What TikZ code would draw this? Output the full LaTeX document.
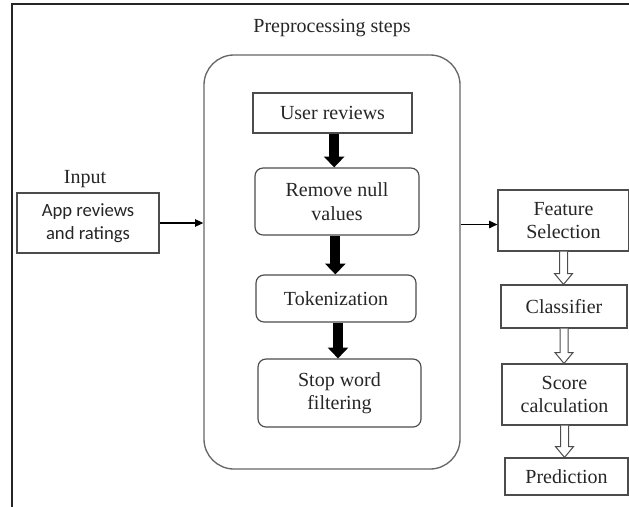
\documentclass[tikz,border=0pt]{standalone}
\usepackage{fontspec}
\setmainfont{Liberation Serif}
\newfontfamily\appfont{Carlito}
\usetikzlibrary{arrows.meta,calc}
\begin{document}
\begin{tikzpicture}[x=0.6pt,y=-0.6pt,
  every node/.style={inner sep=0pt,align=center,text=black!85},
  txt/.style={font=\rmfamily\fontsize{12}{14}\selectfont},
  sqbox/.style={txt,draw=black!70,line width=0.7pt},
  rbox/.style={txt,draw=black!70,line width=0.7pt,rounded corners=4.8pt},
  thickarrow/.style={line width=6pt,-{Triangle[length=6.5pt,width=12pt]}},
  thinarrow/.style={line width=0.7pt,-{Triangle[length=5pt,width=4.5pt]}},
  hollow/.style={draw=black!70,line width=0.6pt,fill=white}]
\useasboundingbox (0,0) rectangle (629,506);
% frame
\draw[line width=1.4pt,black!85] (12,520) -- (12,4) -- (640,4);
% title
\node[txt] (title) at (332,28) {Preprocessing steps};
% big container
\node[draw=black!60,line width=0.8pt,rounded corners=18pt,minimum width=153.6pt,minimum height=248.4pt] (big) at (332,262) {};
% inner steps
\node[sqbox,minimum width=95.4pt,minimum height=24pt] (ur) at (332.5,113) {User reviews};
\node[rbox,minimum width=98.4pt,minimum height=40.2pt] (rn) at (337,201.5) {Remove null\\values};
\node[rbox,minimum width=96pt,minimum height=28.2pt] (tk) at (336,298.5) {Tokenization};
\node[rbox,minimum width=97.8pt,minimum height=40.8pt] (sw) at (339.5,393) {Stop word\\filtering};
% input
\node[txt] (inlabel) at (85,179) {Input};
\node[draw=black!70,line width=0.7pt,minimum width=85.2pt,minimum height=36pt,font=\appfont\fontsize{11.2}{13.5}\selectfont] (app) at (88,223) {App reviews\\and ratings};
% right column
\node[sqbox,minimum width=78.6pt,minimum height=36.6pt] (fs) at (563.5,220.5) {Feature\\Selection};
\node[sqbox,minimum width=75.6pt,minimum height=25.8pt] (cl) at (564,306.5) {Classifier};
\node[sqbox,minimum width=75pt,minimum height=36.6pt] (sc) at (564.5,394.5) {Score\\calculation};
\node[sqbox,minimum width=73.8pt,minimum height=22.2pt] (pr) at (566.5,476.5) {Prediction};
% thick black arrows
\coordinate (a1) at ([xshift=1pt]ur.south);
\coordinate (a2) at ([xshift=-1pt]rn.south);
\coordinate (a3) at ([xshift=1.2pt]tk.south);
\draw[thickarrow] (a1) -- (a1 |- rn.north);
\draw[thickarrow] (a2) -- (a2 |- tk.north);
\draw[thickarrow] (a3) -- (a3 |- sw.north);
% thin arrows
\draw[thinarrow] (app.east) -- (app.east -| big.west);
\coordinate (outpt) at ([yshift=-2.4pt]big.east |- fs.west);
\draw[thinarrow] (outpt) -- (outpt -| fs.west);
% hollow arrows
\newcommand\hollowarrow[2]{%
  \draw[hollow] let \p1=(#1.south), \p2=(#2.north) in
    (\x1-2.4pt,\y1) -- (\x1-2.4pt,\y2+6.5pt) -- (\x1-5.4pt,\y2+6.5pt) -- (\x1,\y2)
    -- (\x1+5.4pt,\y2+6.5pt) -- (\x1+2.4pt,\y2+6.5pt) -- (\x1+2.4pt,\y1);}
\hollowarrow{fs}{cl}
\hollowarrow{cl}{sc}
\hollowarrow{sc}{pr}
\end{tikzpicture}
\end{document}
